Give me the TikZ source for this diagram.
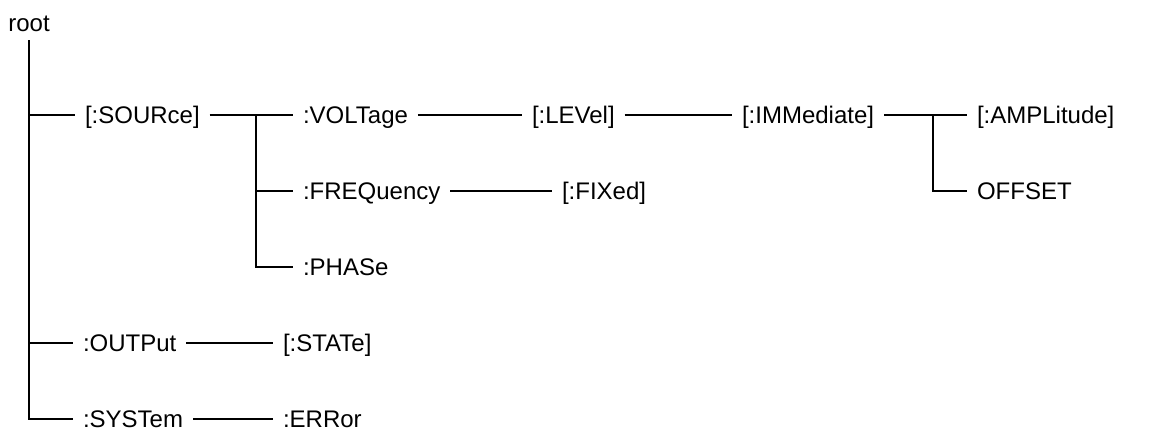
\documentclass[tikz,border=0pt]{standalone}
\usepackage{fontspec}
\setmainfont{Liberation Sans}
\begin{document}
\begin{tikzpicture}[x=0.5pt,y=-0.5pt,
  lbl/.style={anchor=west,inner xsep=5pt,inner ysep=0pt,outer sep=0pt,
    text height=8.6pt,text depth=0pt,font=\fontsize{12}{14}\selectfont},
  conn/.style={draw=black,line width=0.6pt}]
\useasboundingbox (0,0) rectangle (1160,430);
% root
\node[anchor=base west,inner sep=0pt,font=\fontsize{12}{14}\selectfont] (root) at (8,31) {root};
% level 1
\node[lbl] (src) at (75,115) {[:SOURce]};
\node[lbl] (out) at (73,343) {:OUTPut};
\node[lbl] (sys) at (73,419) {:SYSTem};
% level 2
\node[lbl] (volt) at (293,115) {:VOLTage};
\node[lbl] (freq) at (293,191) {:FREQuency};
\node[lbl] (pha)  at (293,267) {:PHASe};
\node[lbl] (stat) at (273,343) {[:STATe]};
\node[lbl] (err)  at (273,419) {:ERRor};
% level 3
\node[lbl] (lev) at (522,115) {[:LEVel]};
\node[lbl] (fix) at (552,191) {[:FIXed]};
% level 4
\node[lbl] (imm) at (732,115) {[:IMMediate]};
% level 5
\node[lbl] (amp) at (967,115) {[:AMPLitude]};
\node[lbl] (off) at (967,191) {OFFSET};
% junctions
\coordinate (t0) at (29,40);
\coordinate (j1) at (256,115);
\coordinate (j2) at (933,115);
% trunk
\draw[conn] (t0) |- (sys.west);
\draw[conn] (t0 |- src.west) -- (src.west);
\draw[conn] (t0 |- out.west) -- (out.west);
% source subtree
\draw[conn] (src.east) -- (volt.west);
\draw[conn] (j1) |- (pha.west);
\draw[conn] (j1 |- freq.west) -- (freq.west);
\draw[conn] (volt.east) -- (lev.west);
\draw[conn] (lev.east) -- (imm.west);
\draw[conn] (imm.east) -- (amp.west);
\draw[conn] (j2) |- (off.west);
\draw[conn] (freq.east) -- (fix.west);
% others
\draw[conn] (out.east) -- (stat.west);
\draw[conn] (sys.east) -- (err.west);
\end{tikzpicture}
\end{document}
